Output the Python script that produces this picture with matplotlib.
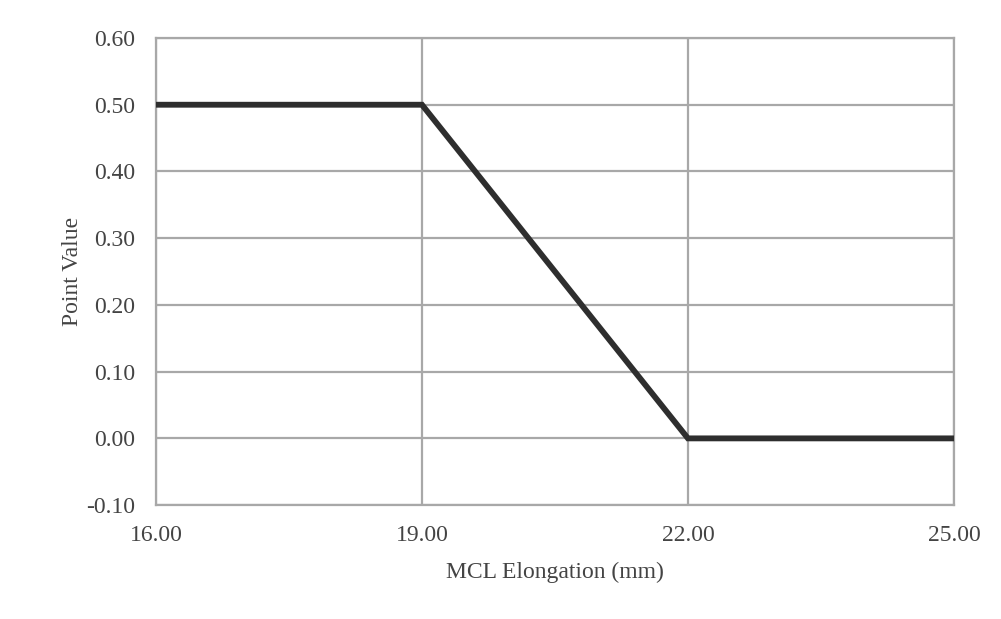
import matplotlib
matplotlib.use('Agg')
import matplotlib.pyplot as plt

plt.rcParams['font.family'] = ['Liberation Serif', 'DejaVu Serif']

# data
elongation = [16.0, 19.0, 22.0, 25.0]
point_value = [0.5, 0.5, 0.0, 0.0]
x_ticks = [16.0, 19.0, 22.0, 25.0]
y_ticks = [-0.1, 0.0, 0.1, 0.2, 0.3, 0.4, 0.5, 0.6]

grid_col = '#a8a8a8'
text_col = '#444444'

fig = plt.figure(figsize=(10.01, 6.19), dpi=100)
ax = fig.add_axes([0.1558, 0.184, 0.7972, 0.7546])

ax.plot(elongation, point_value, color='#2e2e2e', lw=4.2, solid_joinstyle='miter', zorder=3)

ax.set_xlim(16, 25)
ax.set_ylim(-0.1, 0.6)
ax.set_xticks(x_ticks)
ax.set_yticks(y_ticks)
ax.set_xticklabels([f'{v:.2f}' for v in x_ticks])
ax.set_yticklabels([f'{v:.2f}' for v in y_ticks])
ax.grid(True, color=grid_col, lw=1.6)
ax.tick_params(length=0, labelsize=17, colors=text_col)
ax.tick_params(axis='y', pad=15)
ax.tick_params(axis='x', pad=14)
for s in ax.spines.values():
    s.set_color(grid_col)
    s.set_linewidth(1.6)

ax.set_xlabel('MCL Elongation (mm)', fontsize=17, color=text_col, labelpad=12)
ax.set_ylabel('Point Value', fontsize=17, color=text_col, labelpad=2)

fig.savefig('out.png', dpi=100)
